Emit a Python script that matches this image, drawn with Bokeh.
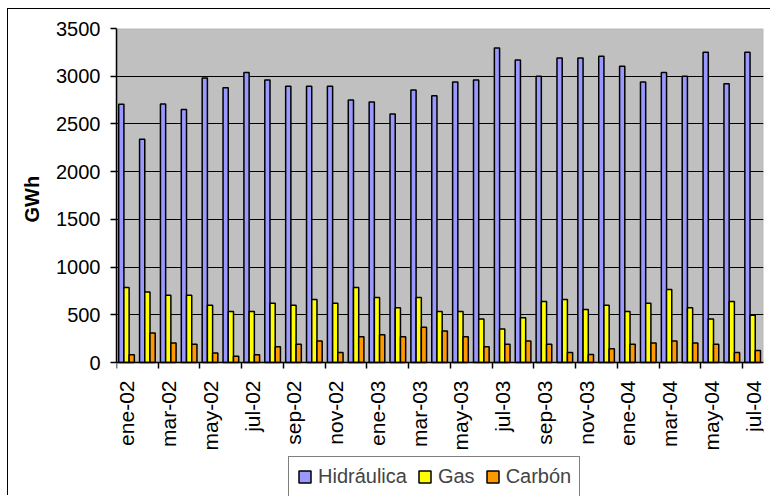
import numpy as np
from bokeh.plotting import figure
from bokeh.models import (ColumnDataSource, Range1d, FixedTicker, Legend, LegendItem,
                          BoxAnnotation, Title)
from bokeh.transform import dodge
from bokeh.embed import file_html
from bokeh.resources import INLINE

# ---- data -------------------------------------------------------------
meses = ["ene-02", "feb-02", "mar-02", "abr-02", "may-02", "jun-02", "jul-02", "ago-02",
         "sep-02", "oct-02", "nov-02", "dic-02", "ene-03", "feb-03", "mar-03", "abr-03",
         "may-03", "jun-03", "jul-03", "ago-03", "sep-03", "oct-03", "nov-03", "dic-03",
         "ene-04", "feb-04", "mar-04", "abr-04", "may-04", "jun-04", "jul-04"]
hidraulica = [2705, 2340, 2710, 2650, 2980, 2880, 3040, 2960, 2895, 2895, 2895, 2750,
              2730, 2605, 2855, 2795, 2940, 2960, 3295, 3170, 3000, 3190, 3190, 3210,
              3105, 2940, 3040, 3000, 3250, 2920, 3250]
gas = [785, 740, 705, 705, 600, 535, 535, 620, 600, 660, 620, 785,
       680, 575, 680, 535, 535, 455, 350, 470, 640, 660, 555, 600,
       535, 620, 765, 575, 455, 640, 495]
carbon = [80, 310, 205, 190, 100, 65, 80, 165, 190, 225, 105, 270,
          290, 270, 370, 330, 270, 165, 190, 225, 190, 105, 85, 145,
          190, 205, 225, 205, 190, 105, 125]
series = ["Hidráulica", "Gas", "Carbón"]
colores = ["#9999FF", "#FFFF00", "#FF9900"]
y_ticks = [0, 500, 1000, 1500, 2000, 2500, 3000, 3500]
y_titulo = "GWh"

FONT = "Liberation Sans"

# layout (pixels)
W, H = 763, 487
TOP, LEFT, RIGHT = 19, 108, 8
PLOT_H = 334          # height of the grey plotting area
frame_h = H - TOP     # frame extends to the bottom of the canvas (axis + legend live inside)
y_min = -y_ticks[-1] * (frame_h - PLOT_H) / PLOT_H

n = len(meses)
source = ColumnDataSource(dict(x=list(range(n)), hidraulica=hidraulica, gas=gas, carbon=carbon))

p = figure(width=W, height=H, output_backend="svg", toolbar_location=None,
           x_range=Range1d(-0.5, n - 0.5), y_range=Range1d(y_min, y_ticks[-1]),
           min_border_left=LEFT, min_border_right=RIGHT, min_border_top=TOP, min_border_bottom=0)
p.styles = {"margin-left": "7px", "margin-top": "8px",
            "border-left": "1px solid black", "border-top": "1px solid black"}

p.background_fill_color = "white"
p.border_fill_color = "white"
p.outline_line_color = None

plot_area = BoxAnnotation(bottom=y_ticks[0], top=y_ticks[-1], fill_color="#C0C0C0", fill_alpha=1,
                          line_color="#808080", line_width=1.5, level="image")
p.add_layout(plot_area)

bw = 0.25
renderers = []
for k, (col, color) in enumerate(zip(["hidraulica", "gas", "carbon"], colores)):
    r = p.vbar(x=dodge("x", (k - 1) * bw - 0.02, range=p.x_range), top=col, width=bw,
               source=source, fill_color=color, line_color="black", line_width=1.5)
    renderers.append(r)

# x axis: drawn at y = 0; labels every two months at centres, ticks at boundaries
xa = p.xaxis[0]
xa.fixed_location = 0
xa.ticker = FixedTicker(ticks=list(range(0, n, 2)),
                        minor_ticks=[i - 0.5 for i in range(0, n, 2)])
xa.major_label_overrides = {i: meses[i] for i in range(0, n, 2)}
xa.major_tick_out = 0
xa.major_tick_in = 0
xa.minor_tick_out = 6
xa.minor_tick_in = 0
xa.minor_tick_line_color = "black"
xa.minor_tick_line_width = 1.5
xa.major_label_orientation = np.pi / 2
xa.major_label_standoff = 12
xa.major_label_text_font = FONT
xa.major_label_text_font_size = "21px"
xa.major_label_text_color = "black"
xa.axis_line_color = "black"
xa.axis_line_width = 1.5
p.xgrid.visible = False

ya = p.yaxis[0]
ya.bounds = (y_ticks[0], y_ticks[-1])
ya.ticker = FixedTicker(ticks=y_ticks)
ya.major_tick_out = 6
ya.major_tick_in = 0
ya.minor_tick_out = 0
ya.minor_tick_in = 0
ya.major_tick_line_color = "black"
ya.major_tick_line_width = 1.5
ya.major_label_standoff = 10
ya.major_label_text_font = FONT
ya.major_label_text_font_size = "20px"
ya.major_label_text_color = "black"
ya.axis_line_color = "black"
ya.axis_line_width = 1.5
p.ygrid.ticker = FixedTicker(ticks=y_ticks)
p.ygrid.grid_line_color = "black"
p.ygrid.grid_line_width = 1

# y-axis title, centred on the grey plotting area rather than on the whole frame
ytitle = Title(text=y_titulo, align="left", vertical_align="top",
               offset=frame_h - PLOT_H // 2 - 27,
               text_font=FONT, text_font_size="20px", text_font_style="bold",
               text_color="black", standoff=18)
p.add_layout(ytitle, "left")

legend = Legend(items=[LegendItem(label=s, renderers=[r]) for s, r in zip(series, renderers)],
                orientation="horizontal", location=(172, -1))
legend.border_line_color = "black"
legend.border_line_width = 1
legend.background_fill_color = "white"
legend.background_fill_alpha = 1
legend.label_text_font = FONT
legend.label_text_font_size = "20px"
legend.label_height = 20
legend.glyph_width = 15
legend.glyph_height = 15
legend.label_standoff = 6
legend.spacing = 10
legend.padding = 8
legend.margin = 0
p.add_layout(legend, "center")

open("out.html", "w").write(file_html(p, INLINE))
